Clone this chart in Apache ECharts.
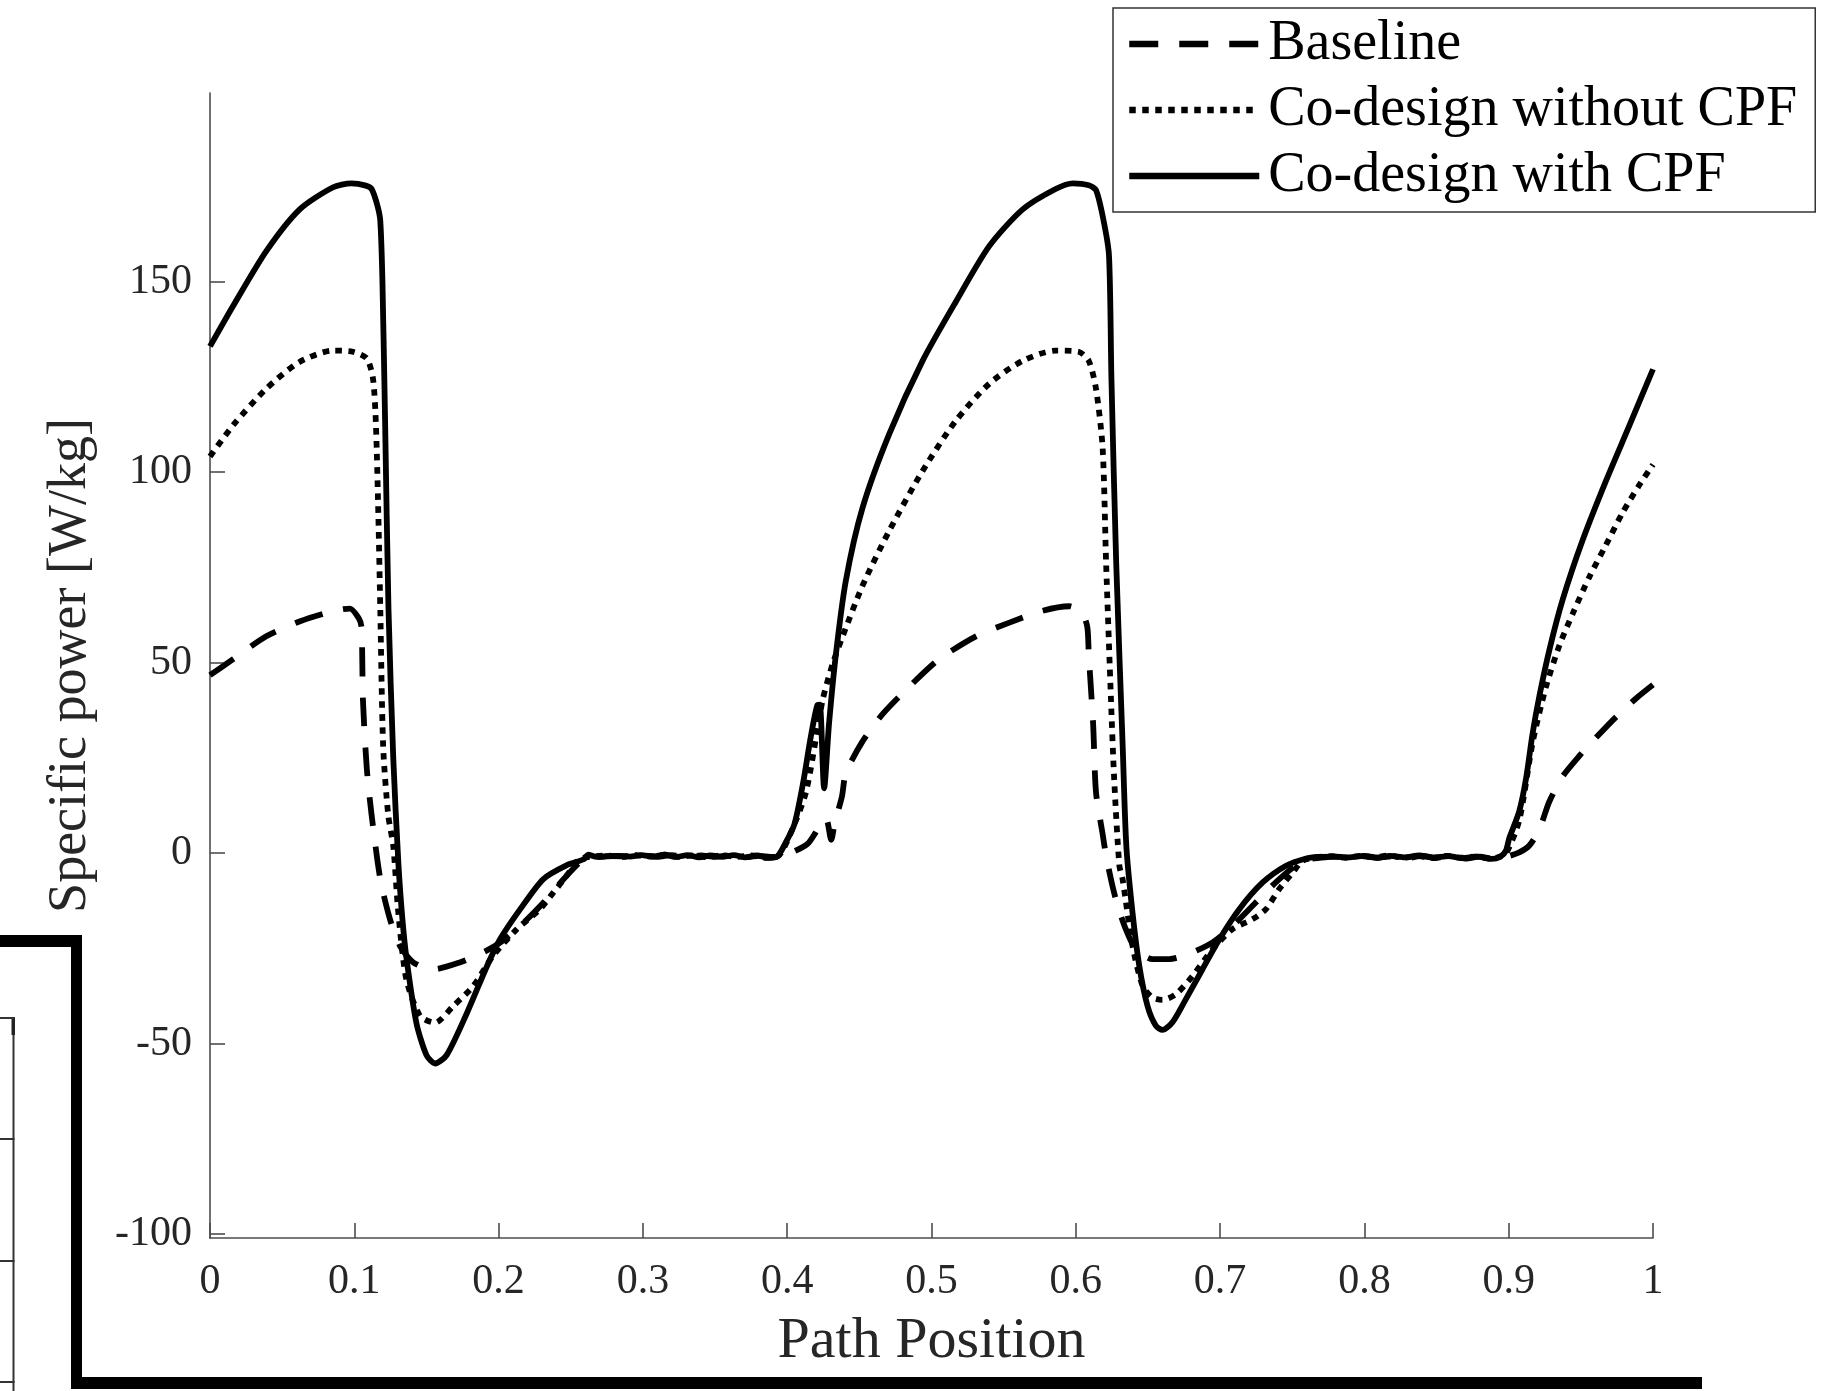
<!DOCTYPE html>
<html>
<head>
<meta charset="utf-8">
<script src="https://cdn.jsdelivr.net/npm/echarts@6/dist/echarts.min.js"></script>
<style>
  html, body { margin: 0; padding: 0; background: #ffffff; }
  #chart { width: 1827px; height: 1391px; }
</style>
</head>
<body>
<div id="chart"></div>
<script>
// Path position (0..1) and specific power [W/kg] for each design

const baselineX = [
  0, 0.016, 0.039, 0.062, 0.085, 0.097, 0.103, 0.105, 0.106, 0.1087, 0.112, 0.118,
  0.1247, 0.1316, 0.141, 0.1547, 0.173, 0.189, 0.201, 0.215, 0.231, 0.247, 0.259,
  0.27, 0.28, 0.29, 0.30, 0.31, 0.32, 0.33, 0.34, 0.35, 0.36, 0.37, 0.38, 0.39, 0.396,
  0.405, 0.414, 0.419, 0.424, 0.427, 0.4305, 0.433, 0.438, 0.4406, 0.452, 0.4661,
  0.4846, 0.5053, 0.5308, 0.554, 0.577, 0.5955, 0.6045, 0.608, 0.609, 0.612, 0.614,
  0.6186, 0.621, 0.6254, 0.629, 0.6347, 0.6416, 0.6532, 0.6648, 0.6798, 0.6948,
  0.7087, 0.7249, 0.741, 0.7572, 0.77, 0.78, 0.79, 0.80, 0.81, 0.82, 0.83, 0.84,
  0.85, 0.86, 0.87, 0.88, 0.89, 0.898, 0.9073, 0.9143, 0.9212, 0.9281, 0.9373,
  0.9489, 0.9605, 0.9743, 0.9882, 1.0
];
const baselineY = [
  46.7, 50.9, 56.9, 60.8, 63.5, 64.2, 61.7, 59.3, 40.1, 22, 10, -6.8,
  -17.3, -24.3, -28.7, -30.5, -28.7, -26.1, -23.5, -19.1, -13, -6, -1.6,
  -1.0, -0.8, -0.9, -0.6, -1.0, -0.5, -1.1, -0.6, -1.0, -0.5, -1.1, -0.7, -1.0, -0.8,
  0.5, 2.4, 5, 8.5, 9, 3.5, 8, 15, 21, 29.2, 36.5,
  43.7, 50.9, 56.9, 60.5, 63.6, 64.8, 63, 59.3, 52, 34, 16,
  5, -0.7, -8.6, -13.8, -20, -25.2, -27.8, -27.8, -26.2, -23.4,
  -19.1, -12.9, -6.8, -2, -1.2, -0.9, -1.1, -0.7, -1.2, -0.8, -1.3, -0.7,
  -1.2, -0.8, -1.4, -0.9, -1.5, -1, 0.2, 2, 6.2, 13.5, 20.1,
  25.5, 30.3, 35.7, 40.6, 44.2
];

const noCpfX = [
  0, 0.016, 0.039, 0.062, 0.085, 0.099, 0.1087, 0.113, 0.115, 0.1167, 0.118, 0.120,
  0.1235, 0.127, 0.1305, 0.136, 0.1455, 0.156, 0.1686, 0.1824, 0.196, 0.2125,
  0.2286, 0.238, 0.247, 0.256, 0.265, 0.275, 0.285, 0.295, 0.305, 0.315, 0.325,
  0.335, 0.345, 0.355, 0.365, 0.375, 0.385, 0.394, 0.401, 0.413, 0.4245, 0.4315,
  0.4384, 0.4522, 0.4707, 0.4938, 0.5169, 0.540, 0.5631, 0.586, 0.602, 0.609,
  0.614, 0.6186, 0.621, 0.6244, 0.6266, 0.6302, 0.6324, 0.6393, 0.6463, 0.6532,
  0.6601, 0.6694, 0.681, 0.6948, 0.7087, 0.7226, 0.7318, 0.741, 0.7503, 0.7572,
  0.767, 0.777, 0.787, 0.797, 0.807, 0.817, 0.827, 0.837, 0.847, 0.857, 0.867,
  0.877, 0.887, 0.893, 0.898, 0.9073, 0.9166, 0.9258, 0.935, 0.9443, 0.9559,
  0.9674, 0.979, 0.9905, 1.0
];
const noCpfY = [
  104.1, 112.3, 121.9, 128.9, 131.9, 131.6, 129.8, 124.4, 112.3, 88.2, 64.2, 28,
  10, 1.9, -15.6, -33, -42.7, -44.5, -40.1, -34.9, -27, -20,
  -14.7, -10.3, -6, -1.6, -0.9, -0.6, -1.0, -0.5, -0.9, -0.4, -1.0, -0.6,
  -1.1, -0.5, -1.0, -0.6, -1.2, -0.7, 4, 16, 40.1, 49.7,
  56.9, 70.2, 84.6, 100.3, 113.5, 123.2, 129.2, 131.9, 131.6, 129.2,
  121.9, 106.3, 76.2, 40.1, 19.4, -3.3, -6.8, -24.3, -34.8, -37.9,
  -38.5, -37, -32.2, -25.2, -19.9, -17.3, -14.7, -9.4, -5.1, -2,
  -1.1, -0.8, -1.2, -0.7, -1.1, -0.6, -1.2, -0.8, -1.3, -0.7, -1.2,
  -0.9, -1.5, -1.0, -0.2, 8.6, 29.1, 43.6, 54.4, 62.8, 72.5,
  80.9, 89.4, 96.6, 102
];

const withCpfX = [
  0, 0.016, 0.039, 0.062, 0.085, 0.098, 0.108, 0.112, 0.116, 0.118, 0.1195, 0.1214,
  0.1237, 0.127, 0.1306, 0.1335, 0.1363, 0.143, 0.150, 0.156, 0.164, 0.178, 0.192,
  0.201, 0.215, 0.231, 0.247, 0.259, 0.262, 0.268, 0.275, 0.283, 0.291, 0.299,
  0.307, 0.315, 0.323, 0.331, 0.339, 0.347, 0.355, 0.363, 0.371, 0.379, 0.387,
  0.393, 0.399, 0.405, 0.411, 0.4163, 0.421, 0.4226, 0.4256, 0.429, 0.4337,
  0.4406, 0.4522, 0.4706, 0.4938, 0.517, 0.540, 0.563, 0.586, 0.598, 0.609, 0.614,
  0.619, 0.623, 0.6247, 0.628, 0.6325, 0.635, 0.6393, 0.644, 0.6497, 0.6555,
  0.6601, 0.667, 0.6763, 0.6879, 0.6995, 0.7133, 0.7295, 0.7457, 0.7596, 0.768,
  0.778, 0.788, 0.798, 0.808, 0.818, 0.828, 0.838, 0.848, 0.858, 0.868, 0.878,
  0.888, 0.894, 0.898, 0.9003, 0.9073, 0.912, 0.9166, 0.9212, 0.9281, 0.9373,
  0.9512, 0.9674, 0.9836, 1.0
];
const withCpfY = [
  133, 143.6, 158, 168.9, 174.7, 175.8, 175.2, 174.3, 170, 166, 150, 112,
  64, 25, -3, -18, -28, -44.5, -53, -55.2, -53, -42, -29.6,
  -22.6, -14.7, -6.8, -3.2, -1.6, -0.4, -1.0, -0.8, -0.7, -0.9, -0.5,
  -0.9, -0.4, -1.0, -0.5, -1.1, -0.6, -1.0, -0.5, -1.1, -0.6, -1.2,
  -0.9, 2.8, 7.6, 18.4, 30.4, 38.9, 39, 17, 34, 52,
  71.4, 90.6, 109.9, 129.2, 144.8, 159.3, 168.9, 174.3, 175.8, 175.3, 174,
  166.5, 156.9, 124.4, 76.2, 28, 2, -15.6, -29.6, -40.1, -45.3,
  -46.4, -44.4, -38.3, -30.4, -22.6, -14.7, -7.7, -3.3, -1.4, -1.0,
  -0.9, -1.1, -0.8, -1.2, -0.7, -1.1, -0.6, -1.2, -0.8, -1.3, -0.9,
  -1.5, -1.0, 0.6, 3.8, 11, 19.5, 31.5, 41.1, 53.2, 66.4,
  82.1, 97.7, 112.2, 127
];

const seriesNames = ['Baseline', 'Co-design without CPF', 'Co-design with CPF'];
const xTicks = [0, 0.1, 0.2, 0.3, 0.4, 0.5, 0.6, 0.7, 0.8, 0.9, 1];
const yTicks = [-100, -50, 0, 50, 100, 150];

const pairs = (xs, ys) => xs.map((x, i) => [x, ys[i]]);

const FONT = '"Liberation Serif", "DejaVu Serif", serif';
const AXIS_GREY = '#4d4d4d';
const TEXT_GREY = '#262626';

const DASH = [29, 21];
const DOT = [6.5, 6.5];
const LINE_W = 5.8;
const SMOOTH = 0.25;

const chart = echarts.init(document.getElementById('chart'), null, { renderer: 'canvas' });

chart.setOption({
  animation: false,
  backgroundColor: '#ffffff',
  grid: { left: 210, right: 174, top: 93, bottom: 153, containLabel: false },
  xAxis: {
    type: 'value',
    min: 0,
    max: 1,
    interval: 0.1,
    name: 'Path Position',
    nameLocation: 'middle',
    nameGap: 75,
    nameTextStyle: { fontFamily: FONT, fontSize: 58, color: TEXT_GREY },
    axisLine: { show: true, onZero: false, lineStyle: { color: AXIS_GREY, width: 1.6 } },
    axisTick: { show: true, inside: true, length: 15, lineStyle: { color: AXIS_GREY, width: 1.6 } },
    axisLabel: {
      show: true,
      margin: 23,
      fontFamily: FONT,
      fontSize: 42,
      color: TEXT_GREY,
      showMinLabel: true,
      showMaxLabel: true,
      customValues: xTicks,
      formatter: v => String(+(+v).toFixed(1))
    },
    splitLine: { show: false }
  },
  yAxis: {
    type: 'value',
    min: -101,
    max: 199.5,
    name: 'Specific power [W/kg]',
    nameLocation: 'middle',
    nameRotate: 90,
    nameGap: 112,
    nameTextStyle: { fontFamily: FONT, fontSize: 54, color: TEXT_GREY },
    axisLine: { show: true, onZero: false, lineStyle: { color: AXIS_GREY, width: 1.6 } },
    axisTick: {
      show: true, inside: true, length: 15,
      customValues: yTicks,
      lineStyle: { color: AXIS_GREY, width: 1.6 }
    },
    axisLabel: {
      show: true,
      margin: 18,
      fontFamily: FONT,
      fontSize: 42,
      color: TEXT_GREY,
      customValues: yTicks,
      formatter: v => String(v)
    },
    splitLine: { show: false }
  },
  legend: {
    orient: 'vertical',
    left: 1113,
    top: 8,
    padding: [8, 14, 8, 13],
    itemGap: 10,
    itemWidth: 130,
    itemHeight: 20,
    borderColor: '#333333',
    borderWidth: 1.5,
    backgroundColor: '#ffffff',
    textStyle: {
      fontFamily: FONT,
      fontSize: 56,
      lineHeight: 54,
      color: '#000000',
      width: 533,
      padding: [0, 0, 0, 4]
    },
    data: [
      { name: seriesNames[0], lineStyle: { color: '#000', width: 6.5, type: DASH }, itemStyle: { opacity: 0 } },
      { name: seriesNames[1], lineStyle: { color: '#000', width: 6.5, type: DOT }, itemStyle: { opacity: 0 } },
      { name: seriesNames[2], lineStyle: { color: '#000', width: 6.5, type: 'solid' }, itemStyle: { opacity: 0 } }
    ]
  },
  series: [
    {
      name: seriesNames[0],
      type: 'line',
      data: pairs(baselineX, baselineY),
      symbol: 'none',
      smooth: SMOOTH,
      z: 2,
      lineStyle: { color: '#000', width: LINE_W, type: DASH, cap: 'butt', join: 'round' }
    },
    {
      name: seriesNames[1],
      type: 'line',
      data: pairs(noCpfX, noCpfY),
      symbol: 'none',
      smooth: SMOOTH,
      z: 3,
      lineStyle: { color: '#000', width: LINE_W, type: DOT, cap: 'butt', join: 'round' }
    },
    {
      name: seriesNames[2],
      type: 'line',
      data: pairs(withCpfX, withCpfY),
      symbol: 'none',
      smooth: SMOOTH,
      z: 4,
      lineStyle: { color: '#000', width: LINE_W, type: 'solid', cap: 'butt', join: 'round' }
    }
  ],
  graphic: [
    // heavy frame running along the left and bottom edges
    { type: 'rect', shape: { x: 0, y: 935, width: 82, height: 12 }, style: { fill: '#000' }, silent: true },
    { type: 'rect', shape: { x: 71, y: 935, width: 11, height: 454 }, style: { fill: '#000' }, silent: true },
    { type: 'rect', shape: { x: 71, y: 1377, width: 1631, height: 12 }, style: { fill: '#000' }, silent: true },
    // thin ruled box at the far left edge
    { type: 'line', shape: { x1: 13.5, y1: 1018, x2: 13.5, y2: 1391 }, style: { stroke: '#333', lineWidth: 2 }, silent: true },
    { type: 'rect', shape: { x: 11.5, y: 1017, width: 3.5, height: 18 }, style: { fill: '#222' }, silent: true },
    { type: 'line', shape: { x1: 0, y1: 1018, x2: 14.5, y2: 1018 }, style: { stroke: '#333', lineWidth: 2 }, silent: true },
    { type: 'line', shape: { x1: 0, y1: 1139, x2: 14.5, y2: 1139 }, style: { stroke: '#333', lineWidth: 2 }, silent: true },
    { type: 'line', shape: { x1: 0, y1: 1261, x2: 14.5, y2: 1261 }, style: { stroke: '#333', lineWidth: 2 }, silent: true },
    { type: 'line', shape: { x1: 0, y1: 1382, x2: 14.5, y2: 1382 }, style: { stroke: '#333', lineWidth: 2 }, silent: true }
  ]
});
</script>
</body>
</html>
